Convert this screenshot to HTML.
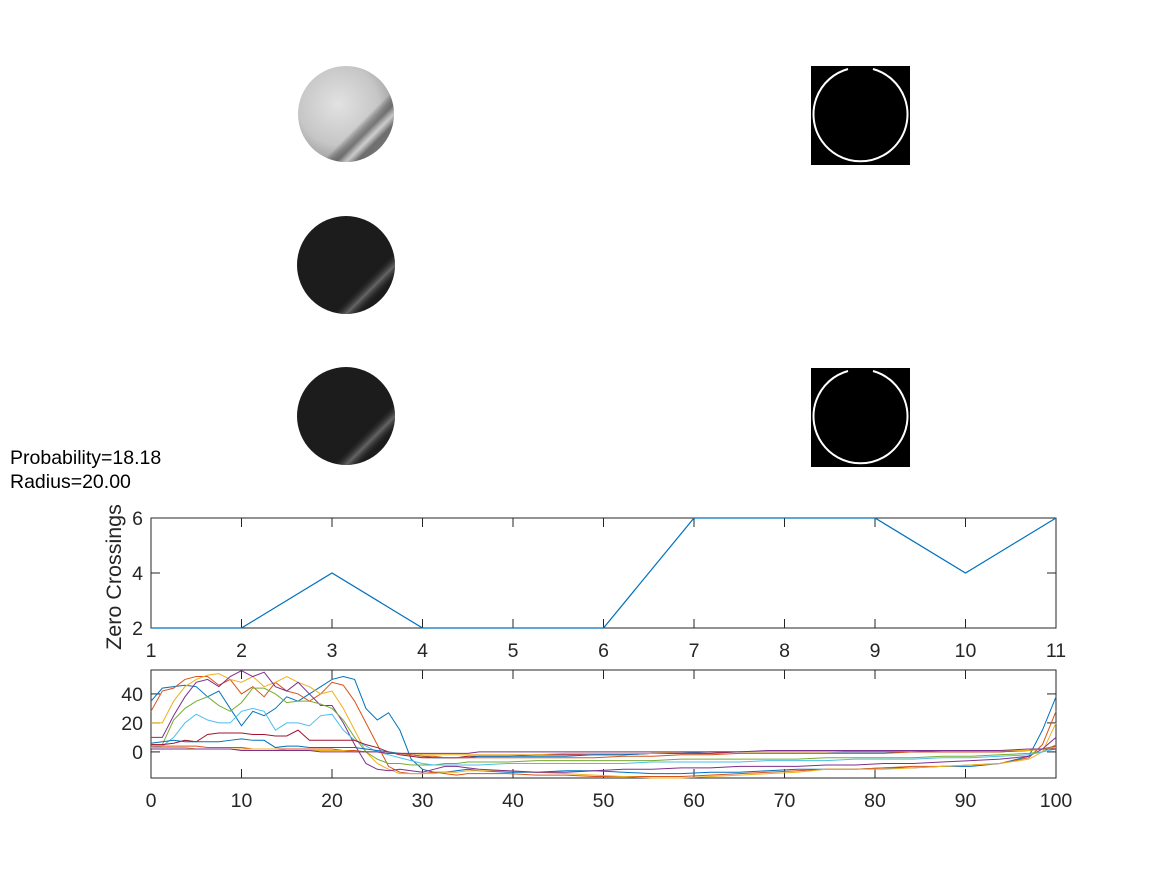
<!DOCTYPE html>
<html><head><meta charset="utf-8"><style>
html,body{margin:0;padding:0;background:#fff;}
svg{display:block;font-family:"Liberation Sans",Arial,sans-serif;}
</style></head><body>
<svg id="fig" width="1167" height="875" viewBox="0 0 1167 875" xmlns="http://www.w3.org/2000/svg">
<defs>
<radialGradient id="g1" cx="0.42" cy="0.4" r="0.6">
<stop offset="0" stop-color="#e2e2e2"/><stop offset="0.7" stop-color="#c6c6c6"/><stop offset="1" stop-color="#a0a0a0"/></radialGradient>
<linearGradient id="stripe1" x1="0" y1="0" x2="1" y2="1">
<stop offset="0.62" stop-color="#000" stop-opacity="0"/><stop offset="0.7" stop-color="#555" stop-opacity="0.7"/><stop offset="0.75" stop-color="#ddd" stop-opacity="0.6"/><stop offset="0.8" stop-color="#555" stop-opacity="0.7"/><stop offset="0.88" stop-color="#333" stop-opacity="0.3"/></linearGradient>
<linearGradient id="stripe2" x1="0" y1="0" x2="1" y2="1">
<stop offset="0.66" stop-color="#000" stop-opacity="0"/><stop offset="0.75" stop-color="#777" stop-opacity="0.8"/><stop offset="0.84" stop-color="#000" stop-opacity="0"/></linearGradient>
</defs>
<g>
<circle cx="346" cy="114" r="48" fill="url(#g1)"/><circle cx="346" cy="114" r="48" fill="url(#stripe1)"/></g>
<g>
<circle cx="346" cy="265" r="49" fill="#1c1c1c"/><circle cx="346" cy="265" r="49" fill="url(#stripe2)"/></g>
<g>
<circle cx="346" cy="416" r="49" fill="#1c1c1c"/><circle cx="346" cy="416" r="49" fill="url(#stripe2)"/></g>
<g>
<rect x="811" y="66" width="99" height="99" fill="#000"/>
<path d="M848,69 A47,47 0 1,0 873,69" fill="none" stroke="#fff" stroke-width="2"/></g>
<g>
<rect x="811" y="368" width="99" height="99" fill="#000"/>
<path d="M848,371 A47,47 0 1,0 873,371" fill="none" stroke="#fff" stroke-width="2"/></g>
<text x="10" y="464" font-size="19.5" fill="#000">Probability=18.18</text>
<text x="10" y="488" font-size="19.5" fill="#000">Radius=20.00</text>
<g id="top"></g>
<g id="bot"></g>
</svg>
<script>
const topX = [1,2,3,4,5,6,7,8,9,10,11];
const topY = [2,2,4,2,2,2,6,6,6,4,6];
const topXTicks = [1,2,3,4,5,6,7,8,9,10,11];
const topYTicks = [2,4,6];
const botXTicks = [0,10,20,30,40,50,60,70,80,90,100];
const botYTicks = [0,20,40];
const profX = [0,1.25,2.5,3.75,5,6.25,7.5,8.75,10,11.25,12.5,13.75,15,16.25,17.5,18.75,20,21.25,22.5,23.75,25,26.25,27.5,28.75,30,31.25,32.5,33.75,35,36.25,39.4,42.6,45.8,49,52.2,55.4,58.6,61.8,65,68.2,71.4,74.6,77.8,81,84.2,87.4,90.6,93.8,97,98.5,100];
const prof1 = [35,44,45,46,45,38,42,30,18,28,25,30,38,35,40,45,50,52,50,30,22,27,15,-5,-12,-14,-14,-13,-12,-13,-14,-14,-13,-13,-14,-15,-15,-14,-14,-13,-12,-12,-12,-11,-11,-10,-10,-8,-3,15,38];
const prof2 = [28,42,44,50,52,52,46,50,40,45,38,48,42,40,35,40,48,46,35,20,5,-10,-14,-15,-15,-14,-15,-16,-15,-15,-15,-16,-16,-17,-17,-17,-17,-16,-15,-14,-13,-12,-12,-11,-10,-10,-9,-8,-4,5,28];
const prof3 = [20,20,35,45,50,53,54,50,48,52,45,48,52,48,45,40,42,30,15,0,-8,-12,-15,-15,-15,-15,-14,-14,-13,-13,-13,-14,-15,-16,-17,-18,-18,-17,-16,-15,-14,-12,-12,-12,-11,-10,-9,-8,-5,0,20];
const prof4 = [10,10,25,38,48,50,45,52,56,52,55,45,42,48,40,32,32,20,5,-8,-12,-13,-12,-13,-14,-12,-10,-10,-11,-12,-13,-14,-14,-13,-12,-12,-11,-11,-10,-10,-10,-9,-9,-8,-8,-7,-6,-5,-3,2,10];
const prof5 = [5,5,22,30,35,38,32,28,34,44,44,40,34,35,35,33,30,22,10,0,-5,-8,-8,-9,-9,-9,-8,-8,-7,-7,-7,-6,-6,-6,-6,-6,-5,-5,-5,-5,-5,-4,-4,-4,-4,-3,-3,-2,-1,0,5];
const prof6 = [3,4,10,20,26,22,20,20,28,30,28,15,20,20,18,25,26,15,8,4,0,-2,-4,-6,-8,-9,-9,-9,-9,-9,-8,-8,-8,-8,-8,-7,-7,-7,-7,-6,-6,-6,-5,-5,-5,-4,-4,-3,-2,0,2];
const prof7 = [5,5,6,8,7,12,13,13,13,12,12,11,11,15,8,8,8,8,8,5,3,0,-2,-3,-4,-4,-4,-4,-3,-3,-3,-2,-2,-2,-2,-1,-1,-1,0,0,0,0,0,0,0,0,0,0,1,2,3];
const prof8 = [6,7,8,7,7,7,7,8,9,8,8,3,4,4,3,3,3,3,3,2,1,0,-1,-2,-3,-4,-4,-4,-4,-3,-3,-3,-3,-2,-2,-1,-1,0,0,0,0,0,0,0,0,1,1,1,1,2,4];
const prof9 = [4,4,4,4,4,3,3,3,3,2,2,2,2,2,2,2,2,1,1,0,0,-1,-1,-2,-3,-3,-4,-4,-4,-4,-4,-4,-4,-4,-3,-3,-2,-2,-1,-1,-1,-1,-1,-1,0,0,0,0,1,2,4];
const prof10 = [3,3,3,3,2,2,2,2,2,2,2,2,1,1,1,1,1,1,0,0,0,-1,-1,-1,-2,-2,-2,-2,-2,-2,-2,-2,-1,-1,-1,-1,0,0,0,0,0,0,1,1,1,1,1,1,1,2,3];
const prof11 = [2,2,2,2,2,2,2,2,1,1,1,1,1,1,1,0,0,0,0,0,0,-1,-1,-1,-1,-1,-1,-1,-1,0,0,0,0,0,0,0,0,0,0,1,1,1,1,1,1,1,1,1,2,2,2];
const profiles = [prof1,prof2,prof3,prof4,prof5,prof6,prof7,prof8,prof9,prof10,prof11];
const colors = ["#0072BD","#D95319","#EDB120","#7E2F8E","#77AC30","#4DBEEE","#A2142F","#0072BD","#D95319","#EDB120","#7E2F8E"];

const NS="http://www.w3.org/2000/svg";
function mk(parent,tag,attrs){const e=document.createElementNS(NS,tag);for(const k in attrs)e.setAttribute(k,attrs[k]);parent.appendChild(e);return e;}

function axes(g,L,T,R,B,xmin,xmax,ymin,ymax,xt,yt,name){
  const sx=v=>L+(v-xmin)/(xmax-xmin)*(R-L);
  const sy=v=>B-(v-ymin)/(ymax-ymin)*(B-T);
  const box=mk(g,'rect',{x:L,y:T,width:R-L,height:B-T,fill:'#fff',stroke:'#262626','stroke-width':1});
  
  
  xt.forEach(v=>{
    const x=sx(v);
    mk(g,'line',{x1:x,y1:B,x2:x,y2:B-9,stroke:'#262626'});
    mk(g,'line',{x1:x,y1:T,x2:x,y2:T+9,stroke:'#262626'});
    const t=mk(g,'text',{x:x,y:B+29,'text-anchor':'middle','font-size':19.5,fill:'#262626'});
    t.textContent=v;
    
    
  });
  yt.forEach(v=>{
    const y=sy(v);
    mk(g,'line',{x1:L,y1:y,x2:L+9,y2:y,stroke:'#262626'});
    mk(g,'line',{x1:R,y1:y,x2:R-9,y2:y,stroke:'#262626'});
    const t=mk(g,'text',{x:L-8,y:y+7,'text-anchor':'end','font-size':19.5,fill:'#262626'});
    t.textContent=v;
    
    
  });
  return {sx,sy};
}

const gt=document.getElementById('top');
const A=axes(gt,151,518,1056,628,1,11,2,6,topXTicks,topYTicks,'top');
const tl=mk(gt,'polyline',{points:topX.map((x,i)=>A.sx(x)+','+A.sy(topY[i])).join(' '),fill:'none',stroke:'#0072BD','stroke-width':1.2});


const yl=mk(gt,'text',{x:0,y:0,'text-anchor':'middle','font-size':21.5,fill:'#262626',transform:'translate(121,577) rotate(-90)'});
yl.textContent='Zero Crossings';


const xl=mk(gt,'text',{x:604,y:685,'text-anchor':'middle','font-size':21.5,fill:'#262626'});
xl.textContent='Radius (Reversed)';



const gb=document.getElementById('bot');
const B=axes(gb,151,670,1056,778,0,100,-18,56.5,botXTicks,botYTicks,'bottom');
profiles.forEach((p,k)=>{
  const l=mk(gb,'polyline',{points:profX.map((x,i)=>B.sx(x)+','+B.sy(p[i])).join(' '),fill:'none',stroke:colors[k],'stroke-width':1});
  
  
});
</script>
</body></html>
